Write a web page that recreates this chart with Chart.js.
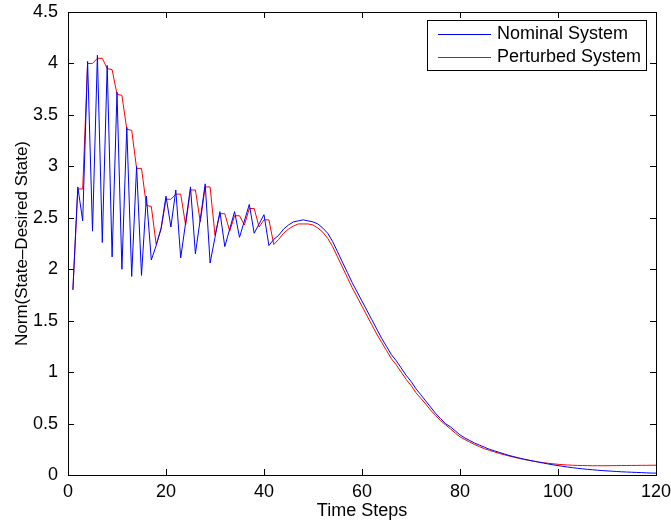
<!DOCTYPE html>
<html>
<head>
<meta charset="utf-8">
<script src="https://cdn.jsdelivr.net/npm/chart.js@4.4.1/dist/chart.umd.min.js"></script>
<style>
  body { margin: 0; background: #fff; }
  #wrap { width: 671px; height: 527px; }
</style>
</head>
<body>
<div id="wrap"><canvas id="normChart" width="671" height="527"></canvas></div>
<script>
// time steps 1..120
const timeSteps = [
  1, 2, 3, 4, 5, 6, 7, 8, 9, 10, 11, 12, 13, 14, 15, 16, 17, 18, 19, 20,
  21, 22, 23, 24, 25, 26, 27, 28, 29, 30, 31, 32, 33, 34, 35, 36, 37, 38, 39, 40,
  41, 42, 43, 44, 45, 46, 47, 48, 49, 50, 51, 52, 53, 54, 55, 56, 57, 58, 59, 60,
  61, 62, 63, 64, 65, 66, 67, 68, 69, 70, 71, 72, 73, 74, 75, 76, 77, 78, 79, 80,
  81, 82, 83, 84, 85, 86, 87, 88, 89, 90, 91, 92, 93, 94, 95, 96, 97, 98, 99, 100,
  101, 102, 103, 104, 105, 106, 107, 108, 109, 110, 111, 112, 113, 114, 115, 116, 117, 118, 119, 120
];

const nominal = [
  1.80, 2.80, 2.47, 4.02, 2.37, 4.08, 2.26, 3.98, 2.12, 3.72,
  2.00, 3.38, 1.93, 3.00, 1.94, 2.71, 2.09, 2.23, 2.40, 2.71,
  2.41, 2.77, 2.11, 2.45, 2.80, 2.15, 2.49, 2.83, 2.06, 2.31,
  2.56, 2.22, 2.39, 2.56, 2.31, 2.47, 2.63, 2.35, 2.44, 2.53,
  2.23, 2.29, 2.33, 2.39, 2.43, 2.46, 2.47, 2.48, 2.47, 2.46,
  2.44, 2.40, 2.35, 2.27, 2.17, 2.07, 1.97, 1.87, 1.78, 1.69,
  1.60, 1.51, 1.42, 1.33, 1.25, 1.17, 1.11, 1.04, 0.97, 0.91,
  0.84, 0.78, 0.72, 0.66, 0.60, 0.55, 0.50, 0.47, 0.43, 0.39,
  0.36, 0.335, 0.31, 0.29, 0.27, 0.25, 0.235, 0.22, 0.205, 0.19,
  0.178, 0.166, 0.155, 0.145, 0.135, 0.125, 0.116, 0.107, 0.099, 0.091,
  0.084, 0.077, 0.071, 0.065, 0.060, 0.055, 0.051, 0.047, 0.043, 0.040,
  0.037, 0.034, 0.031, 0.029, 0.027, 0.025, 0.023, 0.021, 0.019, 0.018
];

const perturbed = [
  1.80, 2.78, 2.78, 4.00, 4.00, 4.05, 4.05, 3.95, 3.94, 3.70,
  3.69, 3.36, 3.35, 2.98, 2.98, 2.62, 2.61, 2.24, 2.39, 2.68,
  2.68, 2.73, 2.73, 2.43, 2.77, 2.77, 2.46, 2.80, 2.80, 2.33,
  2.54, 2.54, 2.37, 2.52, 2.52, 2.43, 2.59, 2.59, 2.41, 2.48,
  2.48, 2.24, 2.29, 2.35, 2.39, 2.42, 2.44, 2.44, 2.44, 2.43,
  2.40, 2.36, 2.30, 2.22, 2.12, 2.02, 1.92, 1.82, 1.73, 1.64,
  1.55, 1.46, 1.37, 1.29, 1.21, 1.13, 1.07, 1.00, 0.93, 0.87,
  0.80, 0.745, 0.69, 0.63, 0.58, 0.53, 0.49, 0.45, 0.41, 0.37,
  0.345, 0.32, 0.295, 0.275, 0.255, 0.24, 0.225, 0.21, 0.197, 0.185,
  0.173, 0.162, 0.152, 0.143, 0.135, 0.127, 0.120, 0.114, 0.109, 0.104,
  0.100, 0.097, 0.095, 0.093, 0.092, 0.091, 0.090, 0.090, 0.090, 0.090,
  0.091, 0.091, 0.092, 0.092, 0.093, 0.093, 0.094, 0.094, 0.095, 0.095
];

const xTicks = [0, 20, 40, 60, 80, 100, 120];
const yTicks = [0, 0.5, 1, 1.5, 2, 2.5, 3, 3.5, 4, 4.5];

const FONT = '"Liberation Sans", Arial, Helvetica, sans-serif';

// matlab style box, inward ticks and legend
const boxPlugin = {
  id: 'boxPlugin',
  afterDatasetsDraw(chart) {
    const { ctx, chartArea: a, scales: { x, y } } = chart;
    ctx.save();
    ctx.strokeStyle = '#000';
    ctx.lineWidth = 1;
    ctx.beginPath();
    xTicks.forEach(v => {
      const px = Math.round(x.getPixelForValue(v)) + 0.5;
      ctx.moveTo(px, a.bottom); ctx.lineTo(px, a.bottom - 6);
      ctx.moveTo(px, a.top); ctx.lineTo(px, a.top + 6);
    });
    yTicks.forEach(v => {
      const py = Math.round(y.getPixelForValue(v)) + 0.5;
      ctx.moveTo(a.left, py); ctx.lineTo(a.left + 6, py);
      ctx.moveTo(a.right, py); ctx.lineTo(a.right - 6, py);
    });
    ctx.stroke();
    ctx.strokeRect(Math.round(a.left) + 0.5, Math.round(a.top) + 0.5,
                   Math.round(a.width), Math.round(a.height));

    // legend box
    const lx = Math.round(a.right) - 229, ly = Math.round(a.top) + 8, lw = 219, lh = 50;
    ctx.fillStyle = '#fff';
    ctx.fillRect(lx, ly, lw, lh);
    ctx.strokeRect(lx + 0.5, ly + 0.5, lw, lh);
    ctx.font = '18px ' + FONT;
    ctx.textBaseline = 'middle';
    chart.data.datasets.forEach((ds, i) => {
      const cy = ly + 14 + i * 23 + 0.5;
      ctx.strokeStyle = ds.borderColor;
      ctx.beginPath();
      ctx.moveTo(lx + 11, cy); ctx.lineTo(lx + 64, cy);
      ctx.stroke();
      ctx.fillStyle = '#000';
      ctx.fillText(ds.label, lx + 70, cy);
    });
    ctx.restore();
  }
};

new Chart(document.getElementById('normChart').getContext('2d'), {
  type: 'line',
  data: {
    datasets: [
      {
        label: 'Nominal System',
        data: timeSteps.map((t, i) => ({ x: t, y: nominal[i] })),
        borderColor: '#0000ff',
        borderWidth: 1,
        pointRadius: 0,
        tension: 0
      },
      {
        label: 'Perturbed System',
        data: timeSteps.map((t, i) => ({ x: t, y: perturbed[i] })),
        borderColor: '#ff0000',
        borderWidth: 1,
        pointRadius: 0,
        tension: 0
      }
    ]
  },
  options: {
    responsive: false,
    animation: false,
    layout: { padding: { top: 12, right: 15, left: 0, bottom: 0 } },
    plugins: {
      legend: { display: false },
      tooltip: { enabled: false }
    },
    scales: {
      x: {
        type: 'linear',
        min: 0,
        max: 120,
        afterBuildTicks: s => { s.ticks = xTicks.map(v => ({ value: v })); },
        afterFit: s => { s.height = 52; s.paddingLeft = 0; s.paddingRight = 0; },
        grid: { display: false, drawTicks: false },
        border: { display: false },
        ticks: { color: '#000', font: { family: FONT, size: 18 }, padding: 6, maxRotation: 0,
                 callback: v => String(v) },
        title: { display: true, text: 'Time Steps', color: '#000', font: { family: FONT, size: 18 },
                 padding: { top: 0, bottom: 5 } }
      },
      y: {
        min: 0,
        max: 4.5,
        afterBuildTicks: s => { s.ticks = yTicks.map(v => ({ value: v })); },
        afterFit: s => { s.width = 68; s.paddingTop = 0; s.paddingBottom = 0; },
        grid: { display: false, drawTicks: false },
        border: { display: false },
        ticks: { color: '#000', font: { family: FONT, size: 18 }, padding: 10,
                 callback: v => String(v) },
        title: { display: true, text: 'Norm(State–Desired State)', color: '#000', font: { family: FONT, size: 17 },
                 padding: { top: 12, bottom: 0 } }
      }
    }
  },
  plugins: [boxPlugin]
});
</script>
</body>
</html>
